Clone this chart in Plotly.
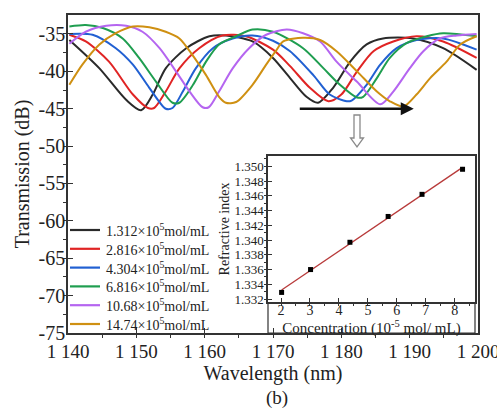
import numpy as np
import plotly.graph_objects as go

# ---------------- data ----------------
series_names = [
    "1.312×10<sup>5</sup>mol/mL",
    "2.816×10<sup>5</sup>mol/mL",
    "4.304×10<sup>5</sup>mol/mL",
    "6.816×10<sup>5</sup>mol/mL",
    "10.68×10<sup>5</sup>mol/mL",
    "14.74×10<sup>5</sup>mol/mL",
]
series_colors = ["#2a2a2a", "#e02424", "#2160d2", "#1f9e50", "#b565f0", "#cf9012"]

wl_black = [1140.2, 1144.6, 1148.5, 1150.7, 1152.4, 1154.3, 1157.3, 1160.7, 1163.1, 1167.0,
            1170.0, 1172.5, 1174.9, 1176.6, 1178.8, 1181.3, 1183.7, 1186.1, 1190.5, 1194.9, 1199.8]
db_black = [-35.8, -39.6, -43.8, -45.2, -43.1, -39.6, -36.9, -35.3, -35.2, -36.0,
            -38.2, -40.9, -43.4, -44.2, -42.2, -38.7, -36.4, -35.6, -35.6, -36.9, -39.8]

wl_red = [1140.2, 1142.6, 1146.0, 1149.5, 1151.7, 1152.6, 1154.3, 1156.3, 1159.2, 1162.6, 1166.0,
          1170.0, 1172.5, 1175.4, 1178.1, 1180.0, 1182.3, 1184.7, 1187.6, 1191.0, 1194.9, 1199.8]
db_red = [-35.1, -36.0, -38.7, -43.1, -44.9, -44.9, -42.7, -39.6, -36.9, -35.2, -35.3,
          -37.1, -39.3, -42.2, -44.0, -43.1, -40.0, -37.3, -36.0, -35.3, -36.0, -38.2]

wl_blue = [1140.2, 1143.6, 1147.0, 1149.5, 1151.9, 1154.3, 1155.3, 1156.8, 1158.7, 1161.2, 1164.1, 1167.0,
           1170.0, 1172.5, 1175.9, 1178.3, 1180.8, 1181.5, 1183.7, 1185.7, 1188.1, 1191.0, 1194.9, 1199.8]
db_blue = [-35.0, -35.1, -36.9, -39.1, -42.2, -45.0, -44.9, -42.7, -39.6, -36.9, -35.6, -35.2,
           -35.9, -37.3, -40.5, -43.1, -44.0, -43.9, -41.8, -39.1, -36.9, -35.8, -35.6, -37.1]

wl_green = [1140.2, 1142.6, 1145.1, 1148.0, 1150.4, 1152.9, 1155.3, 1156.3, 1158.3, 1160.2, 1162.1, 1164.6,
            1167.0, 1170.0, 1174.4, 1177.4, 1179.8, 1182.3, 1183.2, 1185.2, 1187.1, 1189.6, 1192.5, 1194.9, 1199.8]
db_green = [-34.0, -33.8, -34.2, -35.6, -38.2, -41.4, -44.2, -44.2, -41.8, -38.7, -36.4, -35.3,
            -34.4, -34.7, -36.9, -39.6, -41.8, -43.5, -43.4, -40.9, -38.2, -36.2, -35.3, -34.9, -35.3]

wl_purple = [1140.2, 1142.6, 1145.6, 1148.5, 1150.9, 1153.4, 1155.8, 1157.8, 1159.7, 1160.6, 1162.1, 1164.1,
             1166.5, 1169.0, 1172.0, 1174.4, 1176.9, 1179.3, 1182.3, 1185.7, 1187.6, 1190.0, 1192.0, 1194.4,
             1196.9, 1199.8]
db_purple = [-36.3, -34.7, -33.9, -33.9, -34.7, -36.9, -40.0, -42.7, -44.8, -44.8, -42.7, -39.6,
             -36.9, -35.1, -34.4, -34.9, -36.0, -38.7, -41.4, -44.4, -42.7, -39.6, -37.3, -35.6,
             -35.2, -35.0]

wl_orange = [1140.2, 1142.1, 1144.6, 1147.0, 1149.5, 1151.9, 1154.3, 1156.3, 1158.2, 1160.2, 1162.1, 1163.1,
             1164.6, 1167.0, 1169.0, 1170.4, 1171.5, 1174.4, 1176.9, 1179.3, 1182.3, 1185.2, 1187.1, 1189.1,
             1191.0, 1193.0, 1195.4, 1197.4, 1199.8]
db_orange = [-41.8, -39.1, -36.4, -34.9, -34.0, -34.1, -34.7, -35.6, -37.8, -40.5, -43.4, -44.2,
             -44.1, -41.8, -39.1, -37.3, -36.0, -35.5, -35.8, -37.3, -40.0, -42.7, -44.0, -44.7,
             -43.1, -40.9, -38.7, -36.4, -35.3]

series_wl = [wl_black, wl_red, wl_blue, wl_green, wl_purple, wl_orange]
series_db = [db_black, db_red, db_blue, db_green, db_purple, db_orange]

x_tickvals = [1140, 1150, 1160, 1170, 1180, 1190, 1200]
x_ticktext = ["1 140", "1 150", "1 160", "1 170", "1 180", "1 190", "1 200"]
y_tickvals = [-35, -40, -45, -50, -55, -60, -65, -70, -75]
y_ticktext = ["-35", "-40", "-45", "-50", "-55", "-60", "-65", "-70", "-75"]

# inset data
conc = [2.02, 3.02, 4.38, 5.70, 6.87, 8.27]
ri = [1.3329, 1.3360, 1.3397, 1.3432, 1.3462, 1.3496]
inset_xticks = [2, 3, 4, 5, 6, 7, 8]
inset_yticks = [1.332, 1.334, 1.336, 1.338, 1.340, 1.342, 1.344, 1.346, 1.348, 1.350]

# ---------------- layout geometry (pixels) ----------------
W, H = 497, 408
L, R, T, B = 68, 478, 15, 333

def px(xp):
    return (xp - L) / (R - L)

def py(yp):
    return (B - yp) / (B - T)

FONT = "Liberation Serif"
fig = go.Figure()

for name, col, xs, ys in zip(series_names, series_colors, series_wl, series_db):
    fig.add_trace(go.Scatter(x=xs, y=ys, mode="lines", name=name,
                             line=dict(color=col, width=2, shape="spline", smoothing=0.8),
                             xaxis="x", yaxis="y", showlegend=False))

# inset
slope, icpt = np.polyfit(conc, ri, 1)
fit_x = [conc[0], conc[-1]]
fit_y = [slope * v + icpt for v in fit_x]
fig.add_trace(go.Scatter(x=fit_x, y=fit_y, mode="lines", line=dict(color="#b83a3a", width=1.3),
                         xaxis="x2", yaxis="y2", showlegend=False))
fig.add_trace(go.Scatter(x=conc, y=ri, mode="markers",
                         marker=dict(symbol="square", size=5, color="black"),
                         xaxis="x2", yaxis="y2", showlegend=False))

axis_common = dict(showline=True, linecolor="#333333", linewidth=1.5, ticks="inside",
                   tickcolor="#333333", showgrid=False, zeroline=False)

fig.update_layout(
    width=W, height=H,
    margin=dict(l=L, r=W - R, t=T, b=H - B, pad=0, autoexpand=False),
    paper_bgcolor="white", plot_bgcolor="white",
    font=dict(family=FONT, color="#222222"),
    xaxis=dict(domain=[0, 1], range=[1140, 1200], tickvals=x_tickvals, ticktext=x_ticktext,
               ticklen=5, tickwidth=1.2, mirror=True, minor=dict(dtick=5, ticklen=3, tickcolor="#333333"),
               tickfont=dict(size=19), ticklabeloverflow="allow",
               title=dict(text="Wavelength (nm)", font=dict(size=20), standoff=2),
               **axis_common),
    yaxis=dict(domain=[0, 1], range=[-75, -32.46], tickvals=y_tickvals, ticktext=y_ticktext,
               ticklen=5, tickwidth=1.2, mirror=True,
               minor=dict(dtick=2.5, ticklen=3, tickcolor="#333333"),
               tickfont=dict(size=20), ticklabelstandoff=-3, ticklabeloverflow="allow",
               title=dict(text="Transmission (dB)", font=dict(size=20), standoff=4),
               **axis_common),
    xaxis2=dict(domain=[px(268), px(475)], anchor="y2", range=[1.55, 8.7],
                tickvals=inset_xticks, ticklen=4, mirror=True,
                minor=dict(dtick=0.5, ticklen=2, tickcolor="#333333"),
                tickfont=dict(size=14), ticklabelstandoff=-6,
                title=dict(text="Concentration (10<sup>-5</sup> mol/ mL)", font=dict(size=15), standoff=0),
                **axis_common),
    yaxis2=dict(domain=[py(302), py(156)], anchor="x2", range=[1.3316, 1.3514],
                tickvals=inset_yticks, tickformat=".3f", ticklen=4, mirror=True,
                minor=dict(dtick=0.001, ticklen=2, tickcolor="#333333"),
                tickfont=dict(size=13),
                title=dict(text="Refractive index", font=dict(size=14), standoff=2),
                **axis_common),
    showlegend=False,
)

# white box behind inset
fig.add_shape(type="rect", xref="paper", yref="paper", x0=px(268), x1=px(475), y0=py(333), y1=py(156),
              fillcolor="white", line=dict(color="#333333", width=1.2), layer="below")

# legend drawn as line samples + labels
row0, row_step = 230, 18.8
for i, (name, col) in enumerate(zip(series_names, series_colors)):
    yrow = row0 + i * row_step
    fig.add_shape(type="line", xref="paper", yref="paper", x0=px(70), x1=px(100), y0=py(yrow), y1=py(yrow),
                  line=dict(color=col, width=2.2))
    fig.add_annotation(x=px(104), y=py(yrow), xref="paper", yref="paper", text=name, showarrow=False,
                       xanchor="left", yanchor="middle", font=dict(size=14, family=FONT, color="#222222"))

# black arrow showing shift direction
fig.add_annotation(x=1190.6, y=-45.0, ax=1173.7, ay=-45.0, xref="x", yref="y", axref="x", ayref="y",
                   text="", showarrow=True, arrowhead=2, arrowsize=1.0, arrowwidth=2.6, arrowcolor="#111111")

# hollow down arrow
cx = 357
path = (f"M {px(cx-3)},{py(115)} L {px(cx+3)},{py(115)} L {px(cx+3)},{py(138)} L {px(cx+6.5)},{py(138)} "
        f"L {px(cx)},{py(147)} L {px(cx-6.5)},{py(138)} L {px(cx-3)},{py(138)} Z")
fig.add_shape(type="path", xref="paper", yref="paper", path=path, fillcolor="white",
              line=dict(color="#8a8a8a", width=1.3))

# (b) caption
fig.add_annotation(x=px(277), y=py(398), xref="paper", yref="paper", text="(b)", showarrow=False,
                   font=dict(size=19, family=FONT), yanchor="middle")

fig.write_html("out.html", config={"displayModeBar": False},
               post_script="document.body.style.margin='0px';")
